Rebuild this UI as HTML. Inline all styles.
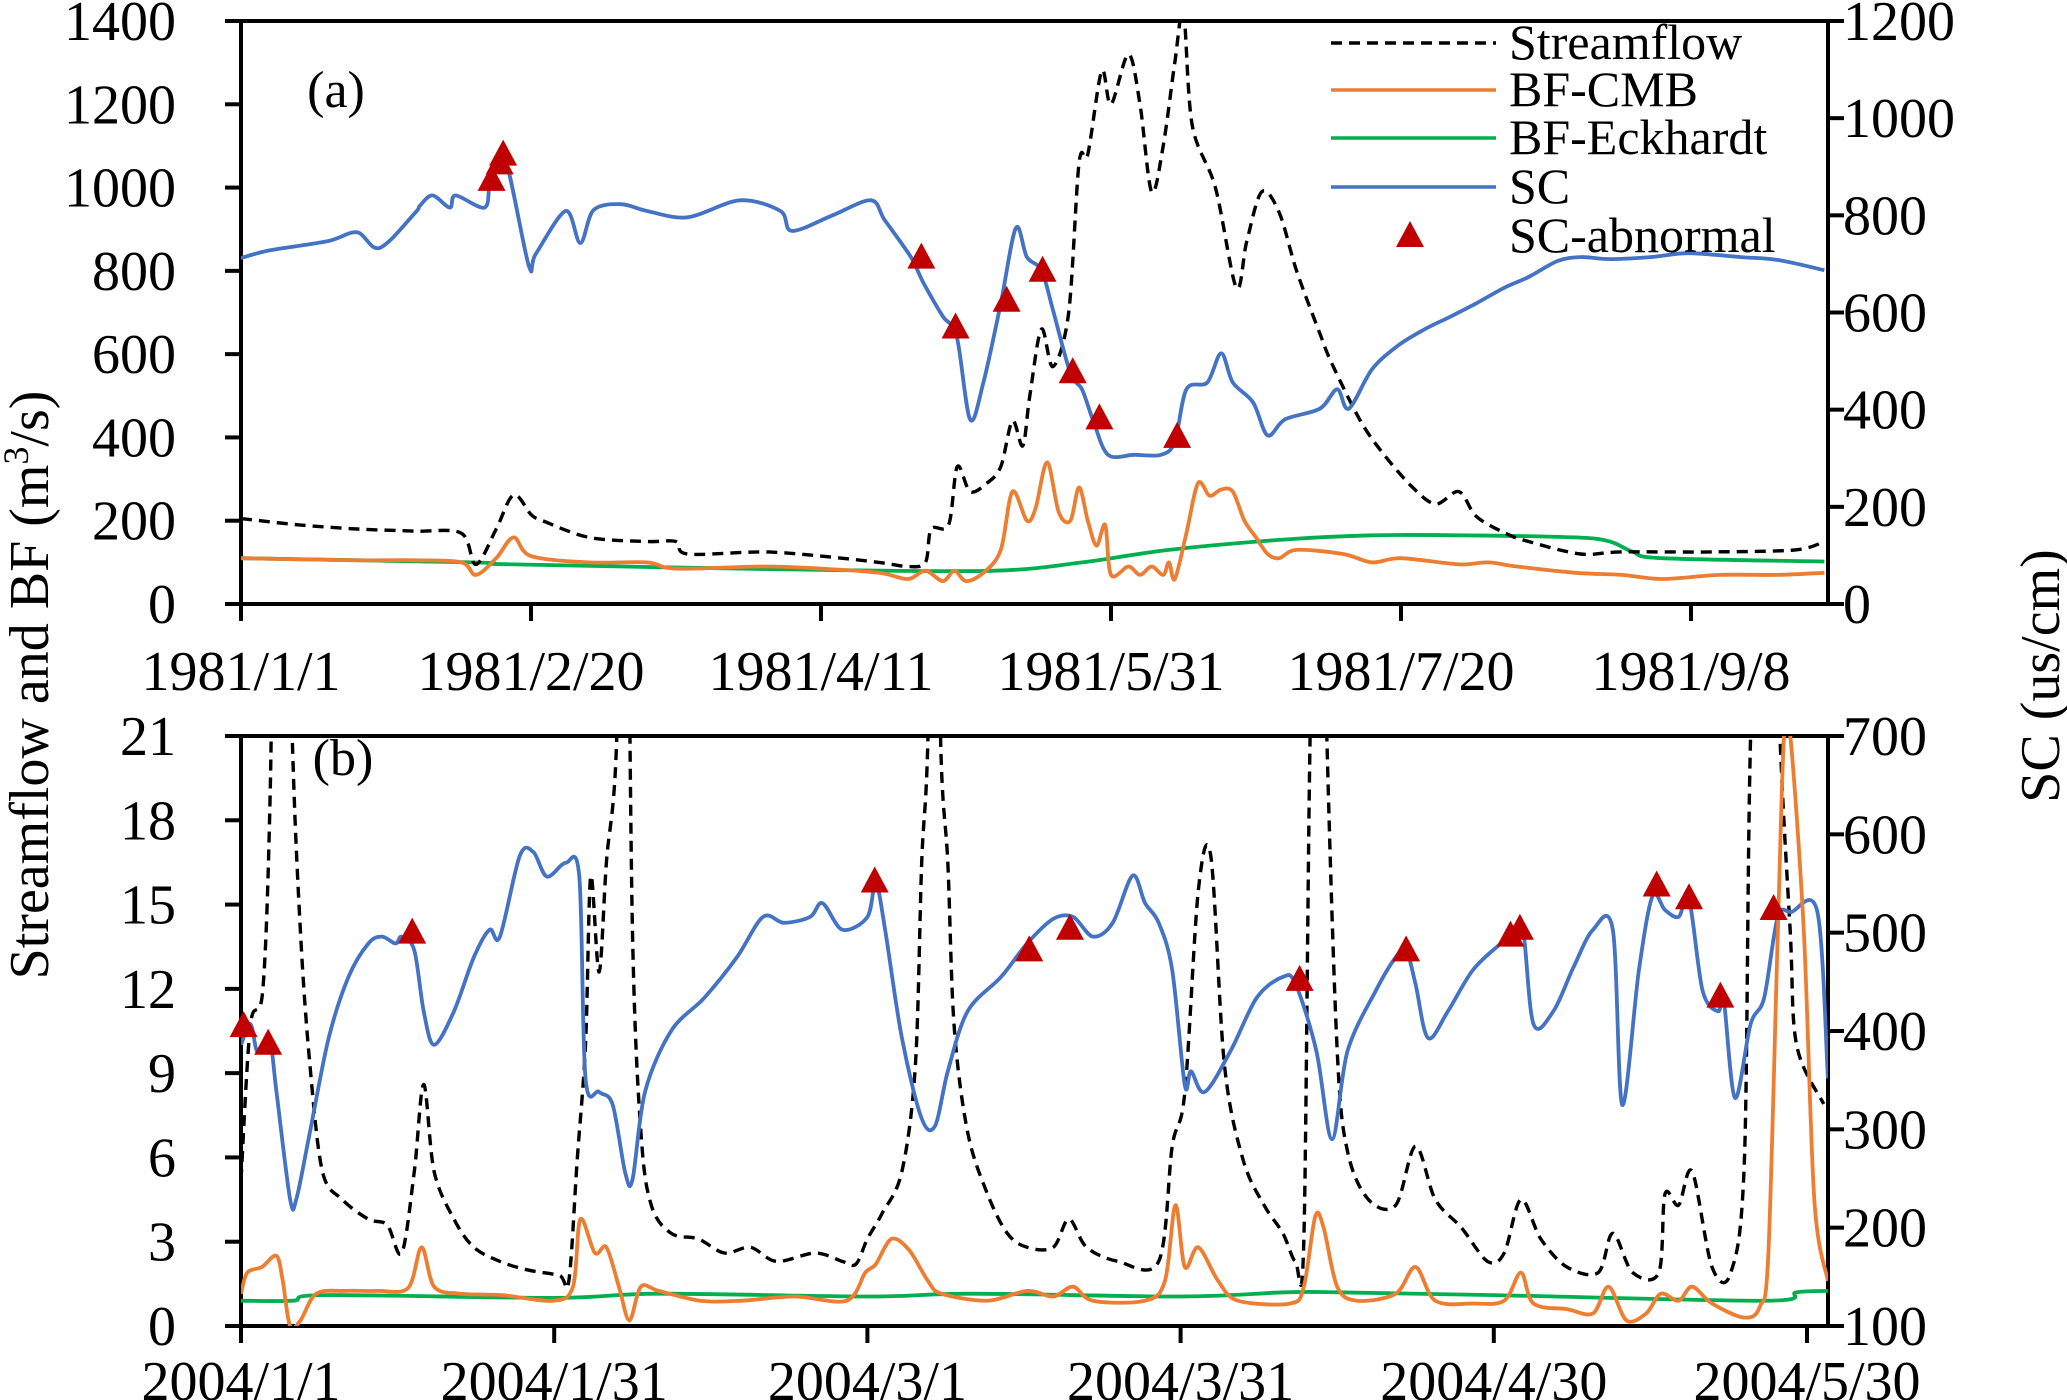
<!DOCTYPE html>
<html><head><meta charset="utf-8"><style>
html,body{margin:0;padding:0;background:#fff;}
svg{display:block;font-family:"Liberation Serif","Times New Roman",serif;}
</style></head><body>
<svg id="chart" width="2067" height="1400" viewBox="0 0 2067 1400" xmlns="http://www.w3.org/2000/svg">
<defs>
<clipPath id="clipA"><rect x="241" y="21" width="1587" height="583"/></clipPath>
<clipPath id="clipB"><rect x="241" y="736" width="1587" height="590"/></clipPath>
</defs>
<g id="layer"></g>
</svg>
<script>
// ---------- Panel (a) data ----------
const aTickDays = [0,50,100,150,200,250];
const aTickLabels = ["1981/1/1","1981/2/20","1981/4/11","1981/5/31","1981/7/20","1981/9/8"];
const aLeftTicks = [0,200,400,600,800,1000,1200,1400];
const aRightTicks = [0,200,400,600,800,1000,1200];
const aFlowDays = [0,10,20,30,38,40.5,44,47,50,52,60,70,75,77,90,100,110,115,118,119,122,123.5,125.7,128.6,131,133,134.8,136,138,140,142.7,144.5,146,148.4,150,153,155,157,159,161,162.5,164,168,171.6,173.4,176,179,182,186,188,193,197,202,206,210,213,218,222,231,238,254,268,273];
const aFlowVals = [205,190,180,175,170,95,180,262,215,200,160,150,150,120,125,115,100,90,100,180,190,330,270,290,330,440,380,500,660,570,700,1060,1080,1280,1200,1320,1200,990,1100,1300,1420,1150,1000,760,870,990,940,800,650,580,440,360,280,240,270,210,170,150,120,125,125,130,150];
const aScDays = [0,5,15,20,23.9,30,30.8,33,36,37,42,43,45.4,49.6,50.8,56,58.5,60.8,65.5,70,77,86,93,95,102,108.6,111,115.5,117.7,121,123.4,125.7,128,131,133.6,135.5,138,140,143,145,147,149.5,154,158.6,161,163,166.6,169,171,174.5,177,180,186,189,191,195,199.5,204,208.6,213,218,222,227,231,236,243,249.5,258.6,265,273];
const aScVals = [712,728,747,765,733,805,819,841,816,841,816,870,922,697,720,809,743,811,823,809,796,831,809,768,800,831,790,714,660,592,551,380,456,619,774,714,687,605,475,442,375,307,307,307,334,442,456,516,456,415,347,380,402,442,402,483,532,565,592,619,652,673,706,714,710,714,722,714,708,687];
const aCmbDays = [0,20,30,38,40.5,44,47,50,60,70,75,90,100,110,115,118,121,123,125,128,131,133,135.5,137,139,141,143,144.5,146,147.5,149,150,153,155,157,159,160,161,163,165,167,169,171,173,175,177,179,182,190,195,200,210,215,220,230,238,245,255,265,273];
const aCmbVals = [110,105,105,100,70,110,160,115,100,100,85,90,85,75,60,80,55,80,55,75,130,270,200,230,340,220,200,280,200,140,190,70,90,70,90,70,100,60,170,290,260,275,270,200,160,120,110,130,120,100,110,95,100,90,75,70,60,70,70,75];
const aEckDays = [0,40,47,100,130,145,160,180,195,210,230,236,240,245,273];
const aEckVals = [110,100,95,82,80,100,130,155,165,165,160,150,125,110,102];
const aAbnDays = [43.2,44.6,45.2,117.3,123.2,132,138.2,143.4,148,161.4];
const aAbnVals = [871,905,923,711,567,622,684,475,380,342];

// ---------- Panel (b) data ----------
const bTickDays = [0,30,60,90,120,150];
const bTickLabels = ["2004/1/1","2004/1/31","2004/3/1","2004/3/31","2004/4/30","2004/5/30"];
const bLeftTicks = [0,3,6,9,12,15,18,21];
const bRightTicks = [100,200,300,400,500,600,700];
const bFlowDays = [0,0.9,2.1,2.8,3.2,4,4.9,5.7,6.6,7.8,9.7,12.2,14,15.4,16.6,17.5,18.5,20.4,22.3,24.8,27.4,30.5,31.4,32.2,33,33.5,34.3,35,36,36.6,37,37.5,38.3,39.3,41.2,43.8,46.3,48.8,51.3,55,57.6,58.9,60,61.4,63.3,64.6,65.2,65.8,66.5,67,67.7,68.3,69.6,71.5,73.4,75.3,77.8,79.3,81,84,87.9,89.2,90.4,91.7,92.9,94.2,96,98,99.8,101,101.8,102.4,103.2,104,105,106,108,110.6,112.5,114.4,116.9,119.4,121,122.6,124.5,127,130,131.4,133.3,135.8,136.4,137.7,139,140.9,142.7,144,144.6,146,147.4,148.4,149,151.6];
const bFlowVals = [5.2,10.7,12,19,30,35,21,14,9.3,5.5,4.5,3.8,3.6,2.6,5.5,8.6,5.5,3.8,2.8,2.3,2.0,1.8,1.6,5.9,10,16,12.6,16.5,21,35,30,14,6.9,4.3,3.3,3.1,2.6,2.8,2.3,2.6,2.3,2.2,3.1,4.0,5.5,9.3,16.5,21,35,21,16.5,10.7,6.9,4.7,3.3,2.8,2.8,3.8,2.8,2.3,2.3,6.4,8.3,15.5,16.7,9.3,5.9,4.3,3.3,2.3,3.0,21,35,21,9.8,6.2,4.5,4.3,6.4,4.5,3.5,2.3,2.6,4.5,3.1,2.1,1.9,3.3,1.9,1.9,4.7,4.3,5.5,2.1,1.9,5.9,21,35,21,14,10,7.9];
const bScDays = [0,0.9,1.5,2.1,2.8,3.4,4.7,5.3,6.6,8.4,10.3,12.2,13.5,14.8,15.4,16.6,17.5,18.5,20.4,22.3,23.8,24.8,26.7,28,29.3,31.1,32.4,33,34.3,35.6,36.8,37.5,38.7,41.2,44.4,47.5,50,52,54.5,55.7,57.6,60,60.8,61.7,63.3,65.2,66.5,67.7,69.6,72.8,75.3,77.8,79.7,81.6,83.5,85.4,86.6,87.9,89.2,90.4,91,92.3,94.8,97.3,99.8,101,103,104.5,106,108.7,110.6,111.6,112.5,113.7,115.6,118,120.7,121.9,122.8,123.8,125.7,127.6,129.5,131.4,132.3,133.9,135.2,136.4,137.7,138.7,140,141.5,142,143.1,144.6,145.9,147.2,148.5,151,152];
const bScVals = [386,407,380,386,390,338,229,229,297,393,455,489,496,489,496,482,420,386,420,475,503,496,578,582,557,571,557,352,338,325,256,249,338,400,434,475,516,510,516,530,503,516,551,503,393,311,304,359,420,455,489,514,516,496,510,558,530,510,462,345,359,338,380,434,455,448,380,290,380,441,475,482,448,393,420,462,489,496,503,407,420,464,503,503,325,462,537,523,516,534,441,420,434,332,407,434,516,521,521,352];
const bCmbDays = [0,0.6,2,3.4,4,4.7,5.7,7.2,10,13,16,17.3,18.5,21,25,29.9,31.8,32.5,33.9,35,36.2,37.2,38.3,40,44,48,53,58,59.8,60.8,62.3,64,65.8,67.1,71.5,75.3,77.8,79.7,81.6,86.6,88.5,89.5,90.4,91.7,93.6,95.5,100.5,101.8,102.9,103.7,105,106.9,110.6,112.5,114.4,118,121,122.6,123.8,127,129.5,131,132.7,134.6,136,137.7,139,140.9,144,145.5,146.3,147.2,147.8,148.4,149.7,150.7,152];
const bCmbVals = [1.15,1.9,2.1,2.5,1.6,0,0.2,1.15,1.25,1.25,1.35,2.8,1.4,1.15,1.1,0.9,1.4,3.8,2.6,2.8,1.4,0.2,1.4,1.25,0.9,0.9,1.05,0.9,1.9,2.2,3.1,2.7,1.6,1.15,0.9,1.25,1.05,1.4,0.9,0.9,1.6,4.3,2.1,2.8,1.6,0.9,0.8,1.4,3.9,3.5,1.4,0.9,1.15,2.1,0.9,0.8,0.9,1.9,0.8,0.6,0.45,1.4,0.2,0.45,1.15,0.9,1.4,0.8,0.3,0.7,2.6,14,21,21,14,4.5,1.6];
const bEckDays = [0,5,8,30,40,60,70,90,100,105,120,146,149,152];
const bEckVals = [0.9,0.9,1.1,1.0,1.15,1.05,1.15,1.05,1.2,1.2,1.1,0.9,1.2,1.25];
const bAbnDays = [0.25,2.6,16.4,60.7,75.5,79.4,101.4,111.6,121.6,122.5,135.6,138.7,141.7,146.8];
const bAbnVals = [404,386,499,551,481,503,451,481,496,503,547,534,434,523];

// ---------- axis functions ----------
const X0 = 241, X1 = 1828;
const xA = d => X0 + d * 5.8;
const yA = v => 604 - v * 583 / 1400;
const yScA = v => 604 - v * 583 / 1200;
const xB = d => X0 + d * 10.44;
const yB = v => 1326 - v * 590 / 21;
const yScB = v => 1326 - (v - 100) * 590 / 600;

const NS = "http://www.w3.org/2000/svg";
const layer = document.getElementById("layer");
function mk(tag, attrs, parent) {
  const e = document.createElementNS(NS, tag);
  for (const k in attrs) e.setAttribute(k, attrs[k]);
  (parent || layer).appendChild(e);
  return e;
}
function pathD(days, vals, fx, fy) {
  const p = days.map((d, i) => [fx(d), fy(vals[i])]);
  let s = "M" + p[0][0].toFixed(1) + "," + p[0][1].toFixed(1);
  for (let i = 0; i < p.length - 1; i++) {
    const p0 = p[Math.max(0, i - 1)], p1 = p[i], p2 = p[i + 1], p3 = p[Math.min(p.length - 1, i + 2)];
    const k = 0.16;
    const c1x = p1[0] + (p2[0] - p0[0]) * k, c1y = p1[1] + (p2[1] - p0[1]) * k;
    const c2x = p2[0] - (p3[0] - p1[0]) * k, c2y = p2[1] - (p3[1] - p1[1]) * k;
    s += " C" + c1x.toFixed(1) + "," + c1y.toFixed(1) + " " + c2x.toFixed(1) + "," + c2y.toFixed(1) + " " + p2[0].toFixed(1) + "," + p2[1].toFixed(1);
  }
  return s;
}
function series(name, days, vals, fx, fy, color, dash, clip) {
  const p = mk("path", {d: pathD(days, vals, fx, fy), fill: "none", stroke: color, "stroke-width": dash ? 3.4 : 3.8, "stroke-linejoin": "round", "clip-path": "url(#" + clip + ")"});
  if (dash) p.setAttribute("stroke-dasharray", "11,7");
  
  
}
function triangles(name, days, vals, fx, fy) {
  const g = mk("g", {});
  
  
  days.forEach((d, i) => {
    const x = fx(d), y = fy(vals[i]);
    const t = mk("polygon", {points: `${x},${y-16} ${x-14},${y+10} ${x+14},${y+10}`, fill: "#c00000"}, g);
    
    
  });
}
function text(str, x, y, anchor, size, name, extra) {
  const t = mk("text", Object.assign({x: x, y: y, "text-anchor": anchor, "font-size": size, fill: "#000"}, extra || {}));
  t.textContent = str;
  
  
  return t;
}
function frame(top, bottom, name) {
  const r = mk("rect", {x: X0, y: top, width: X1 - X0, height: bottom - top, fill: "none", stroke: "#000", "stroke-width": 4});
  
  
}
const FS = 56;

// ---------- Panel (a) ----------
frame(21, 604, "panel-a-frame");
aLeftTicks.forEach(v => {
  mk("line", {x1: X0 - 16, x2: X0, y1: yA(v), y2: yA(v), stroke: "#000", "stroke-width": 4});
  text(String(v), 176, yA(v) + 19, "end", FS, "left-tick-label-a");
});
aRightTicks.forEach(v => {
  mk("line", {x1: X1, x2: X1 + 16, y1: yScA(v), y2: yScA(v), stroke: "#000", "stroke-width": 4});
  text(String(v), 1843, yScA(v) + 19, "start", FS, "right-tick-label-a");
});
aTickDays.forEach((d, i) => {
  mk("line", {x1: xA(d), x2: xA(d), y1: 604, y2: 621, stroke: "#000", "stroke-width": 4});
  text(aTickLabels[i], xA(d), 690, "middle", FS, "x-tick-label-a");
});
series("bf-eckhardt-line-a", aEckDays, aEckVals, xA, yA, "#00b050", null, "clipA");
series("bf-cmb-line-a", aCmbDays, aCmbVals, xA, yA, "#ed7d31", null, "clipA");
series("streamflow-line-a", aFlowDays, aFlowVals, xA, yA, "#000", true, "clipA");
series("sc-line-a", aScDays, aScVals, xA, yScA, "#4472c4", null, "clipA");
triangles("sc-abnormal-markers-a", aAbnDays, aAbnVals, xA, yScA);
text("(a)", 336, 107, "middle", 52, "panel-a-label");

// ---------- Panel (b) ----------
frame(736, 1326, "panel-b-frame");
bLeftTicks.forEach(v => {
  mk("line", {x1: X0 - 16, x2: X0, y1: yB(v), y2: yB(v), stroke: "#000", "stroke-width": 4});
  text(String(v), 176, yB(v) + 19, "end", FS, "left-tick-label-b");
});
bRightTicks.forEach(v => {
  mk("line", {x1: X1, x2: X1 + 16, y1: yScB(v), y2: yScB(v), stroke: "#000", "stroke-width": 4});
  text(String(v), 1843, yScB(v) + 19, "start", FS, "right-tick-label-b");
});
bTickDays.forEach((d, i) => {
  mk("line", {x1: xB(d), x2: xB(d), y1: 1326, y2: 1343, stroke: "#000", "stroke-width": 4});
  text(bTickLabels[i], xB(d), 1400, "middle", FS, "x-tick-label-b");
});
series("bf-eckhardt-line-b", bEckDays, bEckVals, xB, yB, "#00b050", null, "clipB");
series("streamflow-line-b", bFlowDays, bFlowVals, xB, yB, "#000", true, "clipB");
series("sc-line-b", bScDays, bScVals, xB, yScB, "#4472c4", null, "clipB");
series("bf-cmb-line-b", bCmbDays, bCmbVals, xB, yB, "#ed7d31", null, "clipB");
triangles("sc-abnormal-markers-b", bAbnDays, bAbnVals, xB, yScB);
text("(b)", 343, 775, "middle", 52, "panel-b-label");

// ---------- axis titles ----------
const lt = text("", 0, 0, "middle", FS, "left-y-axis-title", {transform: "translate(48,685) rotate(-90)"});
lt.innerHTML = 'Streamflow and BF (m<tspan baseline-shift="super" font-size="36">3</tspan>/s)';
text("SC (us/cm)", 0, 0, "middle", FS, "right-y-axis-title", {transform: "translate(2059,676) rotate(-90)"});

// ---------- legend ----------
const lg = mk("g", {});


const legNames = ["Streamflow","BF-CMB","BF-Eckhardt","SC"];
const legColors = ["#000","#ed7d31","#00b050","#4472c4"];
const legY = [43, 90, 138, 187];
legNames.forEach((n, i) => {
  const l = mk("line", {x1: 1331, x2: 1496, y1: legY[i], y2: legY[i], stroke: legColors[i], "stroke-width": 3.6}, lg);
  if (i === 0) l.setAttribute("stroke-dasharray", "11,7");
  
  
  const t = text(n, 1509, legY[i] + 16, "start", 50, "legend-entry-label");
  lg.appendChild(t);
});
const lt2 = mk("polygon", {points: "1410,221 1396,247 1424,247", fill: "#c00000"}, lg);


lg.appendChild(text("SC-abnormal", 1509, 252, "start", 50, "legend-entry-label"));
</script>
</body></html>
